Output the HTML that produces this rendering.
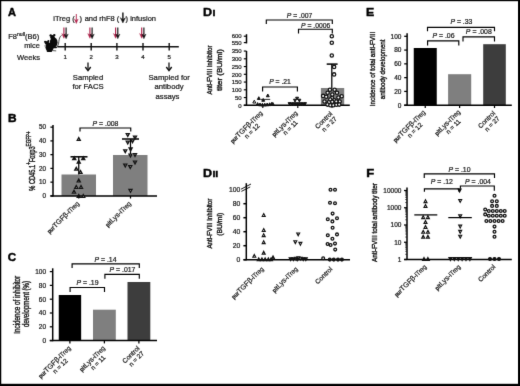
<!DOCTYPE html>
<html lang="en"><head><meta charset="utf-8"><title>Figure</title>
<style>html,body{margin:0;padding:0;background:#fff;}svg{display:block;}</style></head><body>
<svg width="520" height="386" viewBox="0 0 520 386" font-family='"Liberation Sans", sans-serif'>
<style>text{stroke:#1a1a1a;stroke-width:0.22px;}</style>
<defs><filter id="soft" x="0" y="0" width="520" height="386" filterUnits="userSpaceOnUse" color-interpolation-filters="sRGB"><feConvolveMatrix order="3" kernelMatrix="0.008 0.07 0.008 0.07 0.688 0.07 0.008 0.07 0.008" divisor="1" edgeMode="duplicate" preserveAlpha="true"/></filter></defs>
<g filter="url(#soft)">
<rect x="0.00" y="0.00" width="520.00" height="386.00" fill="#fff"/>
<rect x="0.00" y="0.00" width="520.00" height="1.20" fill="#000"/>
<rect x="0.00" y="0.00" width="1.25" height="386.00" fill="#000"/>
<rect x="518.00" y="0.00" width="2.00" height="386.00" fill="#000"/>
<rect x="0.00" y="383.80" width="520.00" height="2.20" fill="#000"/>
<text transform="translate(8.00,15.80) scale(1.0,1)" font-size="11" font-weight="bold" fill="#000" style="stroke:#000;stroke-width:0.45px">A</text>
<text transform="translate(8.00,122.20) scale(1.08,1)" font-size="11" font-weight="bold" fill="#000" style="stroke:#000;stroke-width:0.45px">B</text>
<text transform="translate(7.80,261.00) scale(1.06,1)" font-size="11" font-weight="bold" fill="#000" style="stroke:#000;stroke-width:0.45px">C</text>
<text transform="translate(203.0,16.2) scale(1.14,1)" font-size="11" font-weight="bold" fill="#000" style="stroke:#000;stroke-width:0.4px">D<tspan font-size="13.6" dx="0.3" style="font-variant:small-caps">i</tspan></text>
<text transform="translate(203.0,176.5) scale(1.14,1)" font-size="11" font-weight="bold" fill="#000" style="stroke:#000;stroke-width:0.4px">D<tspan font-size="13.6" dx="0.3" style="font-variant:small-caps">ii</tspan></text>
<text transform="translate(366.10,16.20) scale(1.12,1)" font-size="11" font-weight="bold" fill="#000" style="stroke:#000;stroke-width:0.45px">E</text>
<text transform="translate(366.20,176.60) scale(1.18,1)" font-size="11" font-weight="bold" fill="#000" style="stroke:#000;stroke-width:0.45px">F</text>
<text transform="translate(53.30,21.20)" font-size="7.5" fill="#1a1a1a">iTreg (</text>
<text transform="translate(79.60,21.20)" font-size="7.5" fill="#1a1a1a">)</text>
<text transform="translate(84.70,21.20)" font-size="7.5" fill="#1a1a1a">and rhF8 (</text>
<text transform="translate(125.60,21.20)" font-size="7.5" fill="#1a1a1a">) infusion</text>
<path d="M76.30,14.00 V21.60" stroke="#b0204a" stroke-width="0.9" fill="none"/>
<path d="M74.40,19.00 L76.30,20.75 L78.20,19.00 L76.30,23.60 Z" fill="#b0204a" stroke="#b0204a" stroke-width="0.4" stroke-linejoin="round"/>
<path d="M122.90,12.60 V21.00" stroke="#111" stroke-width="1.4" fill="none"/>
<path d="M120.20,17.60 L122.90,19.65 L125.60,17.60 L122.90,23.00 Z" fill="#111" stroke="#111" stroke-width="0.4" stroke-linejoin="round"/>
<line x1="57.30" y1="46.70" x2="178.80" y2="46.70" stroke="#111" stroke-width="1.5" stroke-linecap="butt"/>
<line x1="65.20" y1="42.90" x2="65.20" y2="50.50" stroke="#111" stroke-width="1.4" stroke-linecap="butt"/>
<text transform="translate(65.20,58.90)" font-size="6.1" text-anchor="middle" fill="#1a1a1a">1</text>
<line x1="91.20" y1="42.90" x2="91.20" y2="50.50" stroke="#111" stroke-width="1.4" stroke-linecap="butt"/>
<text transform="translate(91.20,58.90)" font-size="6.1" text-anchor="middle" fill="#1a1a1a">2</text>
<line x1="116.90" y1="42.90" x2="116.90" y2="50.50" stroke="#111" stroke-width="1.4" stroke-linecap="butt"/>
<text transform="translate(116.90,58.90)" font-size="6.1" text-anchor="middle" fill="#1a1a1a">3</text>
<line x1="143.00" y1="42.90" x2="143.00" y2="50.50" stroke="#111" stroke-width="1.4" stroke-linecap="butt"/>
<text transform="translate(143.00,58.90)" font-size="6.1" text-anchor="middle" fill="#1a1a1a">4</text>
<line x1="169.20" y1="42.90" x2="169.20" y2="50.50" stroke="#111" stroke-width="1.4" stroke-linecap="butt"/>
<text transform="translate(169.20,58.90)" font-size="6.1" text-anchor="middle" fill="#1a1a1a">5</text>
<path d="M63.90,27.40 V36.30" stroke="#b0204a" stroke-width="1.15" fill="none"/>
<path d="M61.75,33.50 L63.90,35.32 L66.05,33.50 L63.90,38.30 Z" fill="#b0204a" stroke="#b0204a" stroke-width="0.4" stroke-linejoin="round"/>
<path d="M66.10,27.40 V36.80" stroke="#111" stroke-width="1.15" fill="none"/>
<path d="M63.95,34.00 L66.10,35.82 L68.25,34.00 L66.10,38.80 Z" fill="#111" stroke="#111" stroke-width="0.4" stroke-linejoin="round"/>
<path d="M89.90,27.40 V36.30" stroke="#b0204a" stroke-width="1.15" fill="none"/>
<path d="M87.75,33.50 L89.90,35.32 L92.05,33.50 L89.90,38.30 Z" fill="#b0204a" stroke="#b0204a" stroke-width="0.4" stroke-linejoin="round"/>
<path d="M92.10,27.40 V36.80" stroke="#111" stroke-width="1.15" fill="none"/>
<path d="M89.95,34.00 L92.10,35.82 L94.25,34.00 L92.10,38.80 Z" fill="#111" stroke="#111" stroke-width="0.4" stroke-linejoin="round"/>
<path d="M115.60,27.40 V36.30" stroke="#b0204a" stroke-width="1.15" fill="none"/>
<path d="M113.45,33.50 L115.60,35.32 L117.75,33.50 L115.60,38.30 Z" fill="#b0204a" stroke="#b0204a" stroke-width="0.4" stroke-linejoin="round"/>
<path d="M117.80,27.40 V36.80" stroke="#111" stroke-width="1.15" fill="none"/>
<path d="M115.65,34.00 L117.80,35.82 L119.95,34.00 L117.80,38.80 Z" fill="#111" stroke="#111" stroke-width="0.4" stroke-linejoin="round"/>
<path d="M141.70,27.40 V36.30" stroke="#b0204a" stroke-width="1.15" fill="none"/>
<path d="M139.55,33.50 L141.70,35.32 L143.85,33.50 L141.70,38.30 Z" fill="#b0204a" stroke="#b0204a" stroke-width="0.4" stroke-linejoin="round"/>
<path d="M143.90,27.40 V36.80" stroke="#111" stroke-width="1.15" fill="none"/>
<path d="M141.75,34.00 L143.90,35.82 L146.05,34.00 L143.90,38.80 Z" fill="#111" stroke="#111" stroke-width="0.4" stroke-linejoin="round"/>
<text transform="translate(8.2,38.9)" font-size="7.5" fill="#1a1a1a">F8<tspan font-size="5.2" dy="-2.5">null</tspan><tspan dy="2.5">(B6)</tspan></text>
<text transform="translate(39.80,47.80)" font-size="7.4" text-anchor="end" fill="#1a1a1a">mice</text>
<text transform="translate(40.00,59.60)" font-size="7.6" text-anchor="end" fill="#1a1a1a">Weeks</text>
<g fill="#0a0a0a">
<ellipse cx="53.7" cy="42.4" rx="3.9" ry="5.2"/>
<ellipse cx="49.6" cy="47.2" rx="4.1" ry="4.5"/>
<circle cx="52.5" cy="37.2" r="2.2"/><circle cx="50.7" cy="35.5" r="1.2"/><circle cx="54.3" cy="35.1" r="1.2"/>
<circle cx="47.0" cy="43.0" r="2.1"/><circle cx="45.1" cy="41.8" r="1.05"/><circle cx="48.4" cy="41.1" r="1.05"/>
<rect x="46.6" y="50.2" width="5.6" height="1.7" rx="0.8"/><rect x="52.0" y="46.6" width="5.0" height="1.6" rx="0.8"/>
</g>
<path d="M52.5,50.6 L56.2,50.9" fill="none" stroke="#111" stroke-width="0.7"/>
<path d="M44.2,42.6 L45.6,43.4 M44.2,46.0 L45.8,45.6" fill="none" stroke="#111" stroke-width="0.5"/>
<path d="M57.0,46.4 C59.8,45.6 57.6,37.6 61.6,35.4" fill="none" stroke="#222" stroke-width="0.8"/>
<path d="M88.00,62.40 V70.00" fill="none" stroke="#111" stroke-width="1.3"/>
<path d="M85.30,67.00 L88.00,70.60 L90.70,67.00" fill="none" stroke="#111" stroke-width="1.4" stroke-linejoin="miter"/>
<path d="M169.00,62.40 V70.00" fill="none" stroke="#111" stroke-width="1.3"/>
<path d="M166.30,67.00 L169.00,70.60 L171.70,67.00" fill="none" stroke="#111" stroke-width="1.4" stroke-linejoin="miter"/>
<text transform="translate(88.00,80.10)" font-size="7.7" text-anchor="middle" fill="#1a1a1a">Sampled</text>
<text transform="translate(88.00,89.30)" font-size="7.7" text-anchor="middle" fill="#1a1a1a">for FACS</text>
<text transform="translate(169.20,79.90)" font-size="7.7" text-anchor="middle" fill="#1a1a1a">Sampled for</text>
<text transform="translate(169.00,89.40)" font-size="7.7" text-anchor="middle" fill="#1a1a1a">antibody</text>
<text transform="translate(167.50,98.70)" font-size="7.7" text-anchor="middle" fill="#1a1a1a">assays</text>
<rect x="61.50" y="174.50" width="34.50" height="21.40" fill="#7f7f7f"/>
<rect x="113.00" y="155.00" width="34.50" height="40.90" fill="#7f7f7f"/>
<line x1="53.00" y1="125.00" x2="53.00" y2="196.50" stroke="#000" stroke-width="1.5" stroke-linecap="butt"/>
<line x1="50.40" y1="195.90" x2="157.00" y2="195.90" stroke="#000" stroke-width="1.5" stroke-linecap="butt"/>
<line x1="50.40" y1="195.90" x2="53.00" y2="195.90" stroke="#000" stroke-width="1.25" stroke-linecap="butt"/>
<text transform="translate(45.90,198.10)" font-size="6.3" text-anchor="end" fill="#1a1a1a">0</text>
<line x1="50.40" y1="182.15" x2="53.00" y2="182.15" stroke="#000" stroke-width="1.25" stroke-linecap="butt"/>
<text transform="translate(45.90,184.35)" font-size="6.3" text-anchor="end" fill="#1a1a1a">10</text>
<line x1="50.40" y1="168.40" x2="53.00" y2="168.40" stroke="#000" stroke-width="1.25" stroke-linecap="butt"/>
<text transform="translate(45.90,170.60)" font-size="6.3" text-anchor="end" fill="#1a1a1a">20</text>
<line x1="50.40" y1="154.65" x2="53.00" y2="154.65" stroke="#000" stroke-width="1.25" stroke-linecap="butt"/>
<text transform="translate(45.90,156.85)" font-size="6.3" text-anchor="end" fill="#1a1a1a">30</text>
<line x1="50.40" y1="140.90" x2="53.00" y2="140.90" stroke="#000" stroke-width="1.25" stroke-linecap="butt"/>
<text transform="translate(45.90,143.10)" font-size="6.3" text-anchor="end" fill="#1a1a1a">40</text>
<line x1="50.40" y1="127.15" x2="53.00" y2="127.15" stroke="#000" stroke-width="1.25" stroke-linecap="butt"/>
<text transform="translate(45.90,129.35)" font-size="6.3" text-anchor="end" fill="#1a1a1a">50</text>
<line x1="78.75" y1="195.90" x2="78.75" y2="198.50" stroke="#000" stroke-width="1.25" stroke-linecap="butt"/>
<line x1="130.50" y1="195.90" x2="130.50" y2="198.50" stroke="#000" stroke-width="1.25" stroke-linecap="butt"/>
<line x1="78.75" y1="156.80" x2="78.75" y2="174.50" stroke="#000" stroke-width="1.25" stroke-linecap="butt"/>
<line x1="70.50" y1="156.80" x2="87.50" y2="156.80" stroke="#000" stroke-width="1.5" stroke-linecap="butt"/>
<line x1="130.50" y1="139.00" x2="130.50" y2="155.00" stroke="#000" stroke-width="1.25" stroke-linecap="butt"/>
<line x1="122.00" y1="139.00" x2="139.00" y2="139.00" stroke="#000" stroke-width="1.5" stroke-linecap="butt"/>
<path d="M78.75,137.53 L80.30,140.47 L77.20,140.47 Z" fill="#fff" stroke="#111" stroke-width="1.3" stroke-linejoin="miter"/>
<path d="M74.25,156.78 L75.80,159.72 L72.70,159.72 Z" fill="#fff" stroke="#111" stroke-width="1.3" stroke-linejoin="miter"/>
<path d="M83.25,156.78 L84.80,159.72 L81.70,159.72 Z" fill="#fff" stroke="#111" stroke-width="1.3" stroke-linejoin="miter"/>
<path d="M78.75,160.28 L80.30,163.22 L77.20,163.22 Z" fill="#111" stroke="#111" stroke-width="1.3" stroke-linejoin="miter"/>
<path d="M76.25,167.28 L77.80,170.22 L74.70,170.22 Z" fill="#fff" stroke="#111" stroke-width="1.3" stroke-linejoin="miter"/>
<path d="M80.50,170.53 L82.05,173.47 L78.95,173.47 Z" fill="#fff" stroke="#111" stroke-width="1.3" stroke-linejoin="miter"/>
<path d="M78.75,179.03 L80.30,181.97 L77.20,181.97 Z" fill="#fff" stroke="#111" stroke-width="1.3" stroke-linejoin="miter"/>
<path d="M76.25,185.53 L77.80,188.47 L74.70,188.47 Z" fill="#fff" stroke="#111" stroke-width="1.3" stroke-linejoin="miter"/>
<path d="M81.00,185.53 L82.55,188.47 L79.45,188.47 Z" fill="#fff" stroke="#111" stroke-width="1.3" stroke-linejoin="miter"/>
<path d="M74.00,190.28 L75.55,193.22 L72.45,193.22 Z" fill="#fff" stroke="#111" stroke-width="1.3" stroke-linejoin="miter"/>
<path d="M78.75,194.53 L80.30,197.47 L77.20,197.47 Z" fill="#111" stroke="#111" stroke-width="1.3" stroke-linejoin="miter"/>
<path d="M83.25,194.53 L84.80,197.47 L81.70,197.47 Z" fill="#fff" stroke="#111" stroke-width="1.3" stroke-linejoin="miter"/>
<path d="M127.75,136.47 L129.30,133.53 L126.20,133.53 Z" fill="#fff" stroke="#111" stroke-width="1.3" stroke-linejoin="miter"/>
<path d="M135.00,138.97 L136.55,136.03 L133.45,136.03 Z" fill="#fff" stroke="#111" stroke-width="1.3" stroke-linejoin="miter"/>
<path d="M127.75,143.97 L129.30,141.03 L126.20,141.03 Z" fill="#fff" stroke="#111" stroke-width="1.3" stroke-linejoin="miter"/>
<path d="M132.50,142.72 L134.05,139.78 L130.95,139.78 Z" fill="#fff" stroke="#111" stroke-width="1.3" stroke-linejoin="miter"/>
<path d="M125.25,152.72 L126.80,149.78 L123.70,149.78 Z" fill="#fff" stroke="#111" stroke-width="1.3" stroke-linejoin="miter"/>
<path d="M130.50,156.97 L132.05,154.03 L128.95,154.03 Z" fill="#fff" stroke="#111" stroke-width="1.3" stroke-linejoin="miter"/>
<path d="M135.00,156.47 L136.55,153.53 L133.45,153.53 Z" fill="#fff" stroke="#111" stroke-width="1.3" stroke-linejoin="miter"/>
<path d="M135.00,163.97 L136.55,161.03 L133.45,161.03 Z" fill="#fff" stroke="#111" stroke-width="1.3" stroke-linejoin="miter"/>
<path d="M125.25,166.97 L126.80,164.03 L123.70,164.03 Z" fill="#fff" stroke="#111" stroke-width="1.3" stroke-linejoin="miter"/>
<path d="M130.25,168.47 L131.80,165.53 L128.70,165.53 Z" fill="#fff" stroke="#111" stroke-width="1.3" stroke-linejoin="miter"/>
<path d="M130.50,192.22 L132.05,189.28 L128.95,189.28 Z" fill="#fff" stroke="#111" stroke-width="1.3" stroke-linejoin="miter"/>
<path d="M130.60,150.87 L132.15,147.93 L129.05,147.93 Z" fill="#111" stroke="#111" stroke-width="1.3" stroke-linejoin="miter"/>
<path d="M80.00,131.60 V128.00 H130.75 V131.60" fill="none" stroke="#000" stroke-width="1.15"/>
<text transform="translate(105.50,125.90)" font-size="6.9" text-anchor="middle" fill="#1a1a1a"><tspan font-style="italic">P</tspan> = .008</text>
<g transform="translate(79.70,204.10) rotate(-45)" font-size="6.6" fill="#1a1a1a">
<text x="-42.40" y="0"><tspan font-size="6.3" font-weight="bold" textLength="8.0" lengthAdjust="spacingAndGlyphs">pur</tspan><tspan font-size="7.2" textLength="18.6" lengthAdjust="spacingAndGlyphs">TGFβ</tspan><tspan font-size="6.6" textLength="15.8" lengthAdjust="spacingAndGlyphs">-iTreg</tspan></text>
</g>
<g transform="translate(131.50,204.10) rotate(-45)" font-size="6.6" fill="#1a1a1a">
<text x="-33.10" y="0"><tspan font-size="6.3" font-weight="bold" textLength="6.3" lengthAdjust="spacingAndGlyphs">plt</tspan><tspan font-size="7.2" textLength="11.0" lengthAdjust="spacingAndGlyphs">Lys</tspan><tspan font-size="6.6" textLength="15.8" lengthAdjust="spacingAndGlyphs">-iTreg</tspan></text>
</g>
<text transform="translate(34.80,190.75) rotate(-90)" font-size="8.2" textLength="59.5" lengthAdjust="spacingAndGlyphs" fill="#1a1a1a" style="stroke-width:0.42px">% CD45.1<tspan font-size="6.6" dy="-3.4">+</tspan><tspan dy="3.4">Foxp3</tspan><tspan font-size="6.6" dy="-3.8">EGFP+</tspan></text>
<rect x="58.75" y="295.00" width="22.40" height="45.60" fill="#000"/>
<rect x="93.00" y="309.70" width="22.80" height="30.90" fill="#7f7f7f"/>
<rect x="127.50" y="282.00" width="22.80" height="58.60" fill="#3d3d3d"/>
<line x1="52.70" y1="268.30" x2="52.70" y2="341.20" stroke="#000" stroke-width="1.5" stroke-linecap="butt"/>
<line x1="49.80" y1="340.60" x2="157.00" y2="340.60" stroke="#000" stroke-width="1.5" stroke-linecap="butt"/>
<line x1="49.80" y1="340.60" x2="52.60" y2="340.60" stroke="#000" stroke-width="1.25" stroke-linecap="butt"/>
<text transform="translate(46.10,343.00)" font-size="6.5" text-anchor="end" fill="#1a1a1a">0</text>
<line x1="49.80" y1="326.80" x2="52.60" y2="326.80" stroke="#000" stroke-width="1.25" stroke-linecap="butt"/>
<text transform="translate(46.10,329.20)" font-size="6.5" text-anchor="end" fill="#1a1a1a">20</text>
<line x1="49.80" y1="313.00" x2="52.60" y2="313.00" stroke="#000" stroke-width="1.25" stroke-linecap="butt"/>
<text transform="translate(46.10,315.40)" font-size="6.5" text-anchor="end" fill="#1a1a1a">40</text>
<line x1="49.80" y1="299.20" x2="52.60" y2="299.20" stroke="#000" stroke-width="1.25" stroke-linecap="butt"/>
<text transform="translate(46.10,301.60)" font-size="6.5" text-anchor="end" fill="#1a1a1a">60</text>
<line x1="49.80" y1="285.40" x2="52.60" y2="285.40" stroke="#000" stroke-width="1.25" stroke-linecap="butt"/>
<text transform="translate(46.10,287.80)" font-size="6.5" text-anchor="end" fill="#1a1a1a">80</text>
<line x1="49.80" y1="271.60" x2="52.60" y2="271.60" stroke="#000" stroke-width="1.25" stroke-linecap="butt"/>
<text transform="translate(46.10,274.00)" font-size="6.5" text-anchor="end" fill="#1a1a1a">100</text>
<line x1="69.90" y1="340.60" x2="69.90" y2="343.40" stroke="#000" stroke-width="1.25" stroke-linecap="butt"/>
<line x1="104.40" y1="340.60" x2="104.40" y2="343.40" stroke="#000" stroke-width="1.25" stroke-linecap="butt"/>
<line x1="138.90" y1="340.60" x2="138.90" y2="343.40" stroke="#000" stroke-width="1.25" stroke-linecap="butt"/>
<path d="M72.10,268.00 V263.80 H139.30 V268.00" fill="none" stroke="#000" stroke-width="1.15"/>
<path d="M104.90,278.70 V274.30 H139.30 V278.70" fill="none" stroke="#000" stroke-width="1.15"/>
<path d="M70.10,291.90 V287.50 H104.50 V291.90" fill="none" stroke="#000" stroke-width="1.15"/>
<text transform="translate(105.50,261.50)" font-size="6.9" text-anchor="middle" fill="#1a1a1a"><tspan font-style="italic">P</tspan> = .14</text>
<text transform="translate(122.50,272.10)" font-size="6.9" text-anchor="middle" fill="#1a1a1a"><tspan font-style="italic">P</tspan> = .017</text>
<text transform="translate(87.50,285.30)" font-size="6.9" text-anchor="middle" fill="#1a1a1a"><tspan font-style="italic">P</tspan> = .19</text>
<g transform="translate(71.10,348.70) rotate(-45)" font-size="6.6" fill="#1a1a1a">
<text x="-42.40" y="0"><tspan font-size="6.3" font-weight="bold" textLength="8.0" lengthAdjust="spacingAndGlyphs">pur</tspan><tspan font-size="7.2" textLength="18.6" lengthAdjust="spacingAndGlyphs">TGFβ</tspan><tspan font-size="6.6" textLength="15.8" lengthAdjust="spacingAndGlyphs">-iTreg</tspan></text>
<text x="-20.00" y="6.8" text-anchor="middle" font-size="6.5">n = 12</text>
</g>
<g transform="translate(105.50,348.70) rotate(-45)" font-size="6.6" fill="#1a1a1a">
<text x="-33.10" y="0"><tspan font-size="6.3" font-weight="bold" textLength="6.3" lengthAdjust="spacingAndGlyphs">plt</tspan><tspan font-size="7.2" textLength="11.0" lengthAdjust="spacingAndGlyphs">Lys</tspan><tspan font-size="6.6" textLength="15.8" lengthAdjust="spacingAndGlyphs">-iTreg</tspan></text>
<text x="-15.30" y="6.8" text-anchor="middle" font-size="6.5">n = 11</text>
</g>
<g transform="translate(140.10,348.70) rotate(-45)" font-size="6.6" fill="#1a1a1a">
<text x="0" y="0" text-anchor="end">Control</text>
<text x="-9.80" y="6.8" text-anchor="middle" font-size="6.5">n = 27</text>
</g>
<rect x="320.90" y="88.00" width="23.30" height="17.30" fill="#7f7f7f"/>
<line x1="246.50" y1="51.00" x2="246.50" y2="105.90" stroke="#000" stroke-width="1.5" stroke-linecap="butt"/>
<line x1="246.50" y1="34.20" x2="246.50" y2="43.40" stroke="#000" stroke-width="1.5" stroke-linecap="butt"/>
<line x1="243.80" y1="105.30" x2="349.80" y2="105.30" stroke="#000" stroke-width="1.5" stroke-linecap="butt"/>
<line x1="243.80" y1="105.30" x2="246.50" y2="105.30" stroke="#000" stroke-width="1.15" stroke-linecap="butt"/>
<text transform="translate(241.70,107.50)" font-size="6.0" text-anchor="end" fill="#1a1a1a">0</text>
<line x1="243.80" y1="97.55" x2="246.50" y2="97.55" stroke="#000" stroke-width="1.15" stroke-linecap="butt"/>
<text transform="translate(241.70,99.75)" font-size="6.0" text-anchor="end" fill="#1a1a1a">50</text>
<line x1="243.80" y1="89.80" x2="246.50" y2="89.80" stroke="#000" stroke-width="1.15" stroke-linecap="butt"/>
<text transform="translate(241.70,92.00)" font-size="6.0" text-anchor="end" fill="#1a1a1a">100</text>
<line x1="243.80" y1="82.05" x2="246.50" y2="82.05" stroke="#000" stroke-width="1.15" stroke-linecap="butt"/>
<text transform="translate(241.70,84.25)" font-size="6.0" text-anchor="end" fill="#1a1a1a">150</text>
<line x1="243.80" y1="74.30" x2="246.50" y2="74.30" stroke="#000" stroke-width="1.15" stroke-linecap="butt"/>
<text transform="translate(241.70,76.50)" font-size="6.0" text-anchor="end" fill="#1a1a1a">200</text>
<line x1="243.80" y1="66.55" x2="246.50" y2="66.55" stroke="#000" stroke-width="1.15" stroke-linecap="butt"/>
<text transform="translate(241.70,68.75)" font-size="6.0" text-anchor="end" fill="#1a1a1a">250</text>
<line x1="243.80" y1="58.80" x2="246.50" y2="58.80" stroke="#000" stroke-width="1.15" stroke-linecap="butt"/>
<text transform="translate(241.70,61.00)" font-size="6.0" text-anchor="end" fill="#1a1a1a">300</text>
<line x1="243.80" y1="51.05" x2="246.50" y2="51.05" stroke="#000" stroke-width="1.15" stroke-linecap="butt"/>
<text transform="translate(241.70,53.25)" font-size="6.0" text-anchor="end" fill="#1a1a1a">350</text>
<line x1="243.80" y1="42.60" x2="246.50" y2="42.60" stroke="#000" stroke-width="1.15" stroke-linecap="butt"/>
<text transform="translate(241.70,44.80)" font-size="6.0" text-anchor="end" fill="#1a1a1a">550</text>
<line x1="243.80" y1="36.20" x2="246.50" y2="36.20" stroke="#000" stroke-width="1.15" stroke-linecap="butt"/>
<text transform="translate(241.70,38.40)" font-size="6.0" text-anchor="end" fill="#1a1a1a">600</text>
<line x1="262.80" y1="105.30" x2="262.80" y2="107.90" stroke="#000" stroke-width="1.15" stroke-linecap="butt"/>
<line x1="297.80" y1="105.30" x2="297.80" y2="107.90" stroke="#000" stroke-width="1.15" stroke-linecap="butt"/>
<line x1="332.00" y1="105.30" x2="332.00" y2="107.90" stroke="#000" stroke-width="1.15" stroke-linecap="butt"/>
<line x1="331.80" y1="64.10" x2="331.80" y2="88.00" stroke="#000" stroke-width="1.25" stroke-linecap="butt"/>
<line x1="326.70" y1="64.10" x2="337.60" y2="64.10" stroke="#000" stroke-width="1.5" stroke-linecap="butt"/>
<circle cx="331.80" cy="36.20" r="1.65" fill="#fff" stroke="#111" stroke-width="1.3"/>
<circle cx="331.80" cy="42.70" r="1.65" fill="#fff" stroke="#111" stroke-width="1.3"/>
<circle cx="331.80" cy="55.50" r="1.65" fill="#fff" stroke="#111" stroke-width="1.3"/>
<circle cx="334.10" cy="66.90" r="1.65" fill="#fff" stroke="#111" stroke-width="1.3"/>
<circle cx="334.10" cy="74.40" r="1.65" fill="#fff" stroke="#111" stroke-width="1.3"/>
<circle cx="332.00" cy="98.00" r="1.65" fill="#fff" stroke="#111" stroke-width="1.3"/>
<circle cx="329.90" cy="89.70" r="1.65" fill="#fff" stroke="#111" stroke-width="1.3"/>
<circle cx="334.60" cy="89.70" r="1.65" fill="#fff" stroke="#111" stroke-width="1.3"/>
<circle cx="327.60" cy="92.80" r="1.65" fill="#fff" stroke="#111" stroke-width="1.3"/>
<circle cx="337.00" cy="92.80" r="1.65" fill="#fff" stroke="#111" stroke-width="1.3"/>
<circle cx="332.30" cy="94.50" r="1.65" fill="#fff" stroke="#111" stroke-width="1.3"/>
<circle cx="323.10" cy="95.90" r="1.65" fill="#fff" stroke="#111" stroke-width="1.3"/>
<circle cx="326.20" cy="96.80" r="1.65" fill="#fff" stroke="#111" stroke-width="1.3"/>
<circle cx="341.70" cy="96.20" r="1.65" fill="#fff" stroke="#111" stroke-width="1.3"/>
<circle cx="338.40" cy="97.50" r="1.65" fill="#fff" stroke="#111" stroke-width="1.3"/>
<circle cx="330.30" cy="99.50" r="1.65" fill="#fff" stroke="#111" stroke-width="1.3"/>
<circle cx="334.30" cy="100.20" r="1.65" fill="#fff" stroke="#111" stroke-width="1.3"/>
<circle cx="324.50" cy="101.50" r="1.65" fill="#fff" stroke="#111" stroke-width="1.3"/>
<circle cx="339.70" cy="101.50" r="1.65" fill="#fff" stroke="#111" stroke-width="1.3"/>
<circle cx="328.90" cy="102.20" r="1.65" fill="#fff" stroke="#111" stroke-width="1.3"/>
<circle cx="336.30" cy="101.50" r="1.65" fill="#fff" stroke="#111" stroke-width="1.3"/>
<circle cx="332.30" cy="101.80" r="1.65" fill="#fff" stroke="#111" stroke-width="1.3"/>
<circle cx="327.50" cy="104.60" r="1.65" fill="#fff" stroke="#111" stroke-width="1.3"/>
<circle cx="330.40" cy="105.20" r="1.65" fill="#fff" stroke="#111" stroke-width="1.3"/>
<circle cx="333.40" cy="105.20" r="1.65" fill="#fff" stroke="#111" stroke-width="1.3"/>
<circle cx="336.40" cy="104.80" r="1.65" fill="#fff" stroke="#111" stroke-width="1.3"/>
<circle cx="339.20" cy="104.60" r="1.65" fill="#fff" stroke="#111" stroke-width="1.3"/>
<path d="M267.80,94.02 L269.25,96.78 L266.35,96.78 Z" fill="#111" stroke="#111" stroke-width="1.0" stroke-linejoin="miter"/>
<path d="M258.80,96.72 L260.25,99.48 L257.35,99.48 Z" fill="#111" stroke="#111" stroke-width="1.0" stroke-linejoin="miter"/>
<path d="M263.20,98.52 L264.65,101.28 L261.75,101.28 Z" fill="#111" stroke="#111" stroke-width="1.0" stroke-linejoin="miter"/>
<path d="M257.60,102.62 L259.05,105.38 L256.15,105.38 Z" fill="#111" stroke="#111" stroke-width="1.0" stroke-linejoin="miter"/>
<path d="M260.00,103.02 L261.45,105.78 L258.55,105.78 Z" fill="#111" stroke="#111" stroke-width="1.0" stroke-linejoin="miter"/>
<path d="M262.40,103.22 L263.85,105.98 L260.95,105.98 Z" fill="#111" stroke="#111" stroke-width="1.0" stroke-linejoin="miter"/>
<path d="M264.80,103.22 L266.25,105.98 L263.35,105.98 Z" fill="#111" stroke="#111" stroke-width="1.0" stroke-linejoin="miter"/>
<path d="M267.20,103.02 L268.65,105.78 L265.75,105.78 Z" fill="#111" stroke="#111" stroke-width="1.0" stroke-linejoin="miter"/>
<path d="M269.60,102.82 L271.05,105.58 L268.15,105.58 Z" fill="#111" stroke="#111" stroke-width="1.0" stroke-linejoin="miter"/>
<path d="M271.60,102.42 L273.05,105.18 L270.15,105.18 Z" fill="#111" stroke="#111" stroke-width="1.0" stroke-linejoin="miter"/>
<path d="M254.30,100.17 L255.80,103.02 L252.80,103.02 Z" fill="#fff" stroke="#111" stroke-width="1.0" stroke-linejoin="miter"/>
<path d="M272.80,102.36 L274.10,104.83 L271.50,104.83 Z" fill="#111" stroke="#111" stroke-width="0.9" stroke-linejoin="miter"/>
<line x1="260.80" y1="99.40" x2="270.20" y2="99.40" stroke="#111" stroke-width="0.9" stroke-linecap="butt"/>
<path d="M297.10,99.98 L298.55,97.22 L295.65,97.22 Z" fill="#111" stroke="#111" stroke-width="1.0" stroke-linejoin="miter"/>
<path d="M295.00,101.98 L296.45,99.22 L293.55,99.22 Z" fill="#111" stroke="#111" stroke-width="1.0" stroke-linejoin="miter"/>
<path d="M299.40,101.98 L300.85,99.22 L297.95,99.22 Z" fill="#111" stroke="#111" stroke-width="1.0" stroke-linejoin="miter"/>
<path d="M289.60,105.38 L291.05,102.62 L288.15,102.62 Z" fill="#111" stroke="#111" stroke-width="1.0" stroke-linejoin="miter"/>
<path d="M291.80,105.78 L293.25,103.02 L290.35,103.02 Z" fill="#111" stroke="#111" stroke-width="1.0" stroke-linejoin="miter"/>
<path d="M294.00,105.98 L295.45,103.22 L292.55,103.22 Z" fill="#111" stroke="#111" stroke-width="1.0" stroke-linejoin="miter"/>
<path d="M296.20,105.98 L297.65,103.22 L294.75,103.22 Z" fill="#111" stroke="#111" stroke-width="1.0" stroke-linejoin="miter"/>
<path d="M298.40,105.98 L299.85,103.22 L296.95,103.22 Z" fill="#111" stroke="#111" stroke-width="1.0" stroke-linejoin="miter"/>
<path d="M300.60,105.98 L302.05,103.22 L299.15,103.22 Z" fill="#111" stroke="#111" stroke-width="1.0" stroke-linejoin="miter"/>
<path d="M302.80,105.78 L304.25,103.02 L301.35,103.02 Z" fill="#111" stroke="#111" stroke-width="1.0" stroke-linejoin="miter"/>
<path d="M305.00,105.38 L306.45,102.62 L303.55,102.62 Z" fill="#111" stroke="#111" stroke-width="1.0" stroke-linejoin="miter"/>
<line x1="291.50" y1="102.60" x2="303.00" y2="102.60" stroke="#111" stroke-width="0.9" stroke-linecap="butt"/>
<path d="M266.30,24.00 V20.00 H332.30 V24.00" fill="none" stroke="#000" stroke-width="1.15"/>
<path d="M298.50,33.40 V29.20 H332.30 V33.40" fill="none" stroke="#000" stroke-width="1.15"/>
<path d="M262.60,91.40 V87.00 H297.40 V91.40" fill="none" stroke="#000" stroke-width="1.15"/>
<text transform="translate(299.50,17.50)" font-size="6.8" text-anchor="middle" fill="#1a1a1a"><tspan font-style="italic">P</tspan> = .007</text>
<text transform="translate(315.60,27.50)" font-size="6.8" text-anchor="middle" fill="#1a1a1a"><tspan font-style="italic">P</tspan> = .0006</text>
<text transform="translate(280.00,84.10)" font-size="6.8" text-anchor="middle" fill="#1a1a1a"><tspan font-style="italic">P</tspan> = .21</text>
<g transform="translate(262.90,113.70) rotate(-45)" font-size="6.6" fill="#1a1a1a">
<text x="-42.40" y="0"><tspan font-size="6.3" font-weight="bold" textLength="8.0" lengthAdjust="spacingAndGlyphs">pur</tspan><tspan font-size="7.2" textLength="18.6" lengthAdjust="spacingAndGlyphs">TGFβ</tspan><tspan font-size="6.6" textLength="15.8" lengthAdjust="spacingAndGlyphs">-iTreg</tspan></text>
<text x="-20.00" y="6.8" text-anchor="middle" font-size="6.5">n = 12</text>
</g>
<g transform="translate(297.90,113.70) rotate(-45)" font-size="6.6" fill="#1a1a1a">
<text x="-33.10" y="0"><tspan font-size="6.3" font-weight="bold" textLength="6.3" lengthAdjust="spacingAndGlyphs">plt</tspan><tspan font-size="7.2" textLength="11.0" lengthAdjust="spacingAndGlyphs">Lys</tspan><tspan font-size="6.6" textLength="15.8" lengthAdjust="spacingAndGlyphs">-iTreg</tspan></text>
<text x="-15.30" y="6.8" text-anchor="middle" font-size="6.5">n = 11</text>
</g>
<g transform="translate(332.90,114.10) rotate(-45)" font-size="6.6" fill="#1a1a1a">
<text x="0" y="0" text-anchor="end">Control</text>
<text x="-9.80" y="6.8" text-anchor="middle" font-size="6.5">n = 27</text>
</g>
<line x1="246.30" y1="183.20" x2="246.30" y2="260.30" stroke="#000" stroke-width="1.5" stroke-linecap="butt"/>
<line x1="243.60" y1="259.70" x2="350.00" y2="259.70" stroke="#000" stroke-width="1.5" stroke-linecap="butt"/>
<line x1="241.00" y1="189.20" x2="251.00" y2="184.00" stroke="#000" stroke-width="0.9" stroke-linecap="butt"/>
<line x1="241.40" y1="191.40" x2="250.20" y2="186.90" stroke="#000" stroke-width="0.9" stroke-linecap="butt"/>
<line x1="243.40" y1="259.70" x2="246.30" y2="259.70" stroke="#000" stroke-width="1.5" stroke-linecap="butt"/>
<text transform="translate(240.30,262.10)" font-size="6.8" text-anchor="end" fill="#1a1a1a">0</text>
<line x1="243.40" y1="245.70" x2="246.30" y2="245.70" stroke="#000" stroke-width="1.5" stroke-linecap="butt"/>
<text transform="translate(240.30,248.10)" font-size="6.8" text-anchor="end" fill="#1a1a1a">20</text>
<line x1="243.40" y1="231.70" x2="246.30" y2="231.70" stroke="#000" stroke-width="1.5" stroke-linecap="butt"/>
<text transform="translate(240.30,234.10)" font-size="6.8" text-anchor="end" fill="#1a1a1a">40</text>
<line x1="243.40" y1="217.70" x2="246.30" y2="217.70" stroke="#000" stroke-width="1.5" stroke-linecap="butt"/>
<text transform="translate(240.30,220.10)" font-size="6.8" text-anchor="end" fill="#1a1a1a">60</text>
<line x1="243.40" y1="203.70" x2="246.30" y2="203.70" stroke="#000" stroke-width="1.5" stroke-linecap="butt"/>
<text transform="translate(240.30,206.10)" font-size="6.8" text-anchor="end" fill="#1a1a1a">80</text>
<text transform="translate(240.30,192.10)" font-size="6.8" text-anchor="end" fill="#1a1a1a">100</text>
<path d="M263.70,213.57 L265.20,216.43 L262.20,216.43 Z" fill="#fff" stroke="#111" stroke-width="1.1" stroke-linejoin="miter"/>
<path d="M263.70,228.57 L265.20,231.43 L262.20,231.43 Z" fill="#fff" stroke="#111" stroke-width="1.1" stroke-linejoin="miter"/>
<path d="M263.70,233.77 L265.20,236.62 L262.20,236.62 Z" fill="#fff" stroke="#111" stroke-width="1.1" stroke-linejoin="miter"/>
<path d="M263.70,240.77 L265.20,243.62 L262.20,243.62 Z" fill="#fff" stroke="#111" stroke-width="1.1" stroke-linejoin="miter"/>
<path d="M263.70,251.27 L265.20,254.12 L262.20,254.12 Z" fill="#fff" stroke="#111" stroke-width="1.1" stroke-linejoin="miter"/>
<path d="M254.30,254.47 L255.80,257.32 L252.80,257.32 Z" fill="#fff" stroke="#111" stroke-width="1.1" stroke-linejoin="miter"/>
<path d="M273.00,255.88 L274.50,258.73 L271.50,258.73 Z" fill="#fff" stroke="#111" stroke-width="1.1" stroke-linejoin="miter"/>
<path d="M258.70,257.88 L260.20,260.73 L257.20,260.73 Z" fill="#111" stroke="#111" stroke-width="1.1" stroke-linejoin="miter"/>
<path d="M261.90,257.88 L263.40,260.73 L260.40,260.73 Z" fill="#111" stroke="#111" stroke-width="1.1" stroke-linejoin="miter"/>
<path d="M265.10,257.88 L266.60,260.73 L263.60,260.73 Z" fill="#111" stroke="#111" stroke-width="1.1" stroke-linejoin="miter"/>
<path d="M268.30,257.88 L269.80,260.73 L266.80,260.73 Z" fill="#111" stroke="#111" stroke-width="1.1" stroke-linejoin="miter"/>
<path d="M271.00,257.88 L272.50,260.73 L269.50,260.73 Z" fill="#111" stroke="#111" stroke-width="1.1" stroke-linejoin="miter"/>
<path d="M298.20,235.83 L299.70,232.97 L296.70,232.97 Z" fill="#fff" stroke="#111" stroke-width="1.1" stroke-linejoin="miter"/>
<path d="M295.30,243.62 L296.80,240.77 L293.80,240.77 Z" fill="#fff" stroke="#111" stroke-width="1.1" stroke-linejoin="miter"/>
<path d="M300.40,245.23 L301.90,242.38 L298.90,242.38 Z" fill="#fff" stroke="#111" stroke-width="1.1" stroke-linejoin="miter"/>
<path d="M290.60,260.62 L292.10,257.77 L289.10,257.77 Z" fill="#111" stroke="#111" stroke-width="1.1" stroke-linejoin="miter"/>
<path d="M293.40,260.62 L294.90,257.77 L291.90,257.77 Z" fill="#111" stroke="#111" stroke-width="1.1" stroke-linejoin="miter"/>
<path d="M296.00,260.03 L297.50,257.18 L294.50,257.18 Z" fill="#fff" stroke="#111" stroke-width="1.1" stroke-linejoin="miter"/>
<path d="M298.40,259.62 L299.90,256.77 L296.90,256.77 Z" fill="#fff" stroke="#111" stroke-width="1.1" stroke-linejoin="miter"/>
<path d="M300.80,260.03 L302.30,257.18 L299.30,257.18 Z" fill="#fff" stroke="#111" stroke-width="1.1" stroke-linejoin="miter"/>
<path d="M303.20,260.62 L304.70,257.77 L301.70,257.77 Z" fill="#111" stroke="#111" stroke-width="1.1" stroke-linejoin="miter"/>
<path d="M305.80,260.62 L307.30,257.77 L304.30,257.77 Z" fill="#111" stroke="#111" stroke-width="1.1" stroke-linejoin="miter"/>
<path d="M297.20,260.82 L298.70,257.97 L295.70,257.97 Z" fill="#111" stroke="#111" stroke-width="1.1" stroke-linejoin="miter"/>
<circle cx="330.50" cy="189.80" r="1.4" fill="#fff" stroke="#111" stroke-width="1.3"/>
<circle cx="335.00" cy="189.80" r="1.4" fill="#fff" stroke="#111" stroke-width="1.3"/>
<circle cx="330.00" cy="202.80" r="1.4" fill="#fff" stroke="#111" stroke-width="1.3"/>
<circle cx="335.00" cy="203.20" r="1.4" fill="#fff" stroke="#111" stroke-width="1.3"/>
<circle cx="332.60" cy="213.60" r="1.4" fill="#fff" stroke="#111" stroke-width="1.3"/>
<circle cx="327.80" cy="219.20" r="1.4" fill="#fff" stroke="#111" stroke-width="1.3"/>
<circle cx="337.00" cy="218.20" r="1.4" fill="#fff" stroke="#111" stroke-width="1.3"/>
<circle cx="332.40" cy="221.40" r="1.4" fill="#fff" stroke="#111" stroke-width="1.3"/>
<circle cx="332.60" cy="227.80" r="1.4" fill="#fff" stroke="#111" stroke-width="1.3"/>
<circle cx="327.80" cy="235.20" r="1.4" fill="#fff" stroke="#111" stroke-width="1.3"/>
<circle cx="337.00" cy="234.40" r="1.4" fill="#fff" stroke="#111" stroke-width="1.3"/>
<circle cx="332.40" cy="238.80" r="1.4" fill="#fff" stroke="#111" stroke-width="1.3"/>
<circle cx="327.60" cy="244.00" r="1.4" fill="#fff" stroke="#111" stroke-width="1.3"/>
<circle cx="330.60" cy="245.00" r="1.4" fill="#fff" stroke="#111" stroke-width="1.3"/>
<circle cx="335.00" cy="243.60" r="1.4" fill="#fff" stroke="#111" stroke-width="1.3"/>
<circle cx="335.20" cy="249.60" r="1.4" fill="#fff" stroke="#111" stroke-width="1.3"/>
<circle cx="323.20" cy="258.20" r="1.4" fill="#fff" stroke="#111" stroke-width="1.3"/>
<circle cx="329.80" cy="259.60" r="1.4" fill="#111" stroke="#111" stroke-width="1.3"/>
<circle cx="333.80" cy="259.60" r="1.4" fill="#111" stroke="#111" stroke-width="1.3"/>
<circle cx="338.00" cy="259.60" r="1.4" fill="#111" stroke="#111" stroke-width="1.3"/>
<circle cx="341.90" cy="259.60" r="1.4" fill="#111" stroke="#111" stroke-width="1.3"/>
<g transform="translate(264.10,269.50) rotate(-45)" font-size="6.6" fill="#1a1a1a">
<text x="-42.40" y="0"><tspan font-size="6.3" font-weight="bold" textLength="8.0" lengthAdjust="spacingAndGlyphs">pur</tspan><tspan font-size="7.2" textLength="18.6" lengthAdjust="spacingAndGlyphs">TGFβ</tspan><tspan font-size="6.6" textLength="15.8" lengthAdjust="spacingAndGlyphs">-iTreg</tspan></text>
</g>
<g transform="translate(298.10,269.50) rotate(-45)" font-size="6.6" fill="#1a1a1a">
<text x="-33.10" y="0"><tspan font-size="6.3" font-weight="bold" textLength="6.3" lengthAdjust="spacingAndGlyphs">plt</tspan><tspan font-size="7.2" textLength="11.0" lengthAdjust="spacingAndGlyphs">Lys</tspan><tspan font-size="6.6" textLength="15.8" lengthAdjust="spacingAndGlyphs">-iTreg</tspan></text>
</g>
<g transform="translate(332.90,269.50) rotate(-45)" font-size="6.6" fill="#1a1a1a">
<text x="0" y="0" text-anchor="end">Control</text>
</g>
<rect x="413.75" y="48.00" width="23.00" height="57.20" fill="#000"/>
<rect x="448.10" y="74.20" width="23.10" height="31.00" fill="#7f7f7f"/>
<rect x="483.20" y="44.20" width="22.60" height="61.00" fill="#3d3d3d"/>
<line x1="407.10" y1="33.20" x2="407.10" y2="105.80" stroke="#000" stroke-width="1.5" stroke-linecap="butt"/>
<line x1="404.20" y1="105.20" x2="511.80" y2="105.20" stroke="#000" stroke-width="1.5" stroke-linecap="butt"/>
<line x1="404.20" y1="105.20" x2="407.10" y2="105.20" stroke="#000" stroke-width="1.25" stroke-linecap="butt"/>
<text transform="translate(401.40,107.60)" font-size="6.5" text-anchor="end" fill="#1a1a1a">0</text>
<line x1="404.20" y1="91.42" x2="407.10" y2="91.42" stroke="#000" stroke-width="1.25" stroke-linecap="butt"/>
<text transform="translate(401.40,93.82)" font-size="6.5" text-anchor="end" fill="#1a1a1a">20</text>
<line x1="404.20" y1="77.64" x2="407.10" y2="77.64" stroke="#000" stroke-width="1.25" stroke-linecap="butt"/>
<text transform="translate(401.40,80.04)" font-size="6.5" text-anchor="end" fill="#1a1a1a">40</text>
<line x1="404.20" y1="63.86" x2="407.10" y2="63.86" stroke="#000" stroke-width="1.25" stroke-linecap="butt"/>
<text transform="translate(401.40,66.26)" font-size="6.5" text-anchor="end" fill="#1a1a1a">60</text>
<line x1="404.20" y1="50.08" x2="407.10" y2="50.08" stroke="#000" stroke-width="1.25" stroke-linecap="butt"/>
<text transform="translate(401.40,52.48)" font-size="6.5" text-anchor="end" fill="#1a1a1a">80</text>
<line x1="404.20" y1="36.30" x2="407.10" y2="36.30" stroke="#000" stroke-width="1.25" stroke-linecap="butt"/>
<text transform="translate(401.40,38.70)" font-size="6.5" text-anchor="end" fill="#1a1a1a">100</text>
<line x1="425.25" y1="105.20" x2="425.25" y2="108.00" stroke="#000" stroke-width="1.25" stroke-linecap="butt"/>
<line x1="459.60" y1="105.20" x2="459.60" y2="108.00" stroke="#000" stroke-width="1.25" stroke-linecap="butt"/>
<line x1="494.50" y1="105.20" x2="494.50" y2="108.00" stroke="#000" stroke-width="1.25" stroke-linecap="butt"/>
<path d="M427.50,31.30 V27.30 H494.50 V31.30" fill="none" stroke="#000" stroke-width="1.15"/>
<path d="M427.60,45.40 V40.80 H458.80 V45.40" fill="none" stroke="#000" stroke-width="1.15"/>
<path d="M463.00,41.40 V36.90 H494.50 V41.40" fill="none" stroke="#000" stroke-width="1.15"/>
<text transform="translate(461.40,24.40)" font-size="6.9" text-anchor="middle" fill="#1a1a1a"><tspan font-style="italic">P</tspan> = .33</text>
<text transform="translate(443.50,38.10)" font-size="6.9" text-anchor="middle" fill="#1a1a1a"><tspan font-style="italic">P</tspan> = .06</text>
<text transform="translate(478.80,33.80)" font-size="6.9" text-anchor="middle" fill="#1a1a1a"><tspan font-style="italic">P</tspan> = .008</text>
<g transform="translate(425.70,112.80) rotate(-45)" font-size="6.6" fill="#1a1a1a">
<text x="-42.40" y="0"><tspan font-size="6.3" font-weight="bold" textLength="8.0" lengthAdjust="spacingAndGlyphs">pur</tspan><tspan font-size="7.2" textLength="18.6" lengthAdjust="spacingAndGlyphs">TGFβ</tspan><tspan font-size="6.6" textLength="15.8" lengthAdjust="spacingAndGlyphs">-iTreg</tspan></text>
<text x="-20.00" y="6.8" text-anchor="middle" font-size="6.5">n = 12</text>
</g>
<g transform="translate(460.70,112.50) rotate(-45)" font-size="6.6" fill="#1a1a1a">
<text x="-33.10" y="0"><tspan font-size="6.3" font-weight="bold" textLength="6.3" lengthAdjust="spacingAndGlyphs">plt</tspan><tspan font-size="7.2" textLength="11.0" lengthAdjust="spacingAndGlyphs">Lys</tspan><tspan font-size="6.6" textLength="15.8" lengthAdjust="spacingAndGlyphs">-iTreg</tspan></text>
<text x="-15.30" y="6.8" text-anchor="middle" font-size="6.5">n = 11</text>
</g>
<g transform="translate(495.70,113.70) rotate(-45)" font-size="6.6" fill="#1a1a1a">
<text x="0" y="0" text-anchor="end">Control</text>
<text x="-9.80" y="6.8" text-anchor="middle" font-size="6.5">n = 27</text>
</g>
<line x1="407.00" y1="187.40" x2="407.00" y2="260.10" stroke="#000" stroke-width="1.5" stroke-linecap="butt"/>
<line x1="404.20" y1="259.50" x2="511.80" y2="259.50" stroke="#000" stroke-width="1.5" stroke-linecap="butt"/>
<line x1="404.00" y1="259.50" x2="407.00" y2="259.50" stroke="#000" stroke-width="1.25" stroke-linecap="butt"/>
<text transform="translate(401.40,261.90)" font-size="6.5" text-anchor="end" fill="#1a1a1a">1</text>
<line x1="405.20" y1="254.31" x2="407.00" y2="254.31" stroke="#111" stroke-width="0.7" stroke-linecap="butt"/>
<line x1="405.20" y1="251.27" x2="407.00" y2="251.27" stroke="#111" stroke-width="0.7" stroke-linecap="butt"/>
<line x1="405.20" y1="249.11" x2="407.00" y2="249.11" stroke="#111" stroke-width="0.7" stroke-linecap="butt"/>
<line x1="405.20" y1="247.44" x2="407.00" y2="247.44" stroke="#111" stroke-width="0.7" stroke-linecap="butt"/>
<line x1="405.20" y1="246.08" x2="407.00" y2="246.08" stroke="#111" stroke-width="0.7" stroke-linecap="butt"/>
<line x1="405.20" y1="244.92" x2="407.00" y2="244.92" stroke="#111" stroke-width="0.7" stroke-linecap="butt"/>
<line x1="405.20" y1="243.92" x2="407.00" y2="243.92" stroke="#111" stroke-width="0.7" stroke-linecap="butt"/>
<line x1="405.20" y1="243.04" x2="407.00" y2="243.04" stroke="#111" stroke-width="0.7" stroke-linecap="butt"/>
<line x1="404.00" y1="242.25" x2="407.00" y2="242.25" stroke="#000" stroke-width="1.25" stroke-linecap="butt"/>
<text transform="translate(401.40,244.65)" font-size="6.5" text-anchor="end" fill="#1a1a1a">10</text>
<line x1="405.20" y1="237.06" x2="407.00" y2="237.06" stroke="#111" stroke-width="0.7" stroke-linecap="butt"/>
<line x1="405.20" y1="234.02" x2="407.00" y2="234.02" stroke="#111" stroke-width="0.7" stroke-linecap="butt"/>
<line x1="405.20" y1="231.86" x2="407.00" y2="231.86" stroke="#111" stroke-width="0.7" stroke-linecap="butt"/>
<line x1="405.20" y1="230.19" x2="407.00" y2="230.19" stroke="#111" stroke-width="0.7" stroke-linecap="butt"/>
<line x1="405.20" y1="228.83" x2="407.00" y2="228.83" stroke="#111" stroke-width="0.7" stroke-linecap="butt"/>
<line x1="405.20" y1="227.67" x2="407.00" y2="227.67" stroke="#111" stroke-width="0.7" stroke-linecap="butt"/>
<line x1="405.20" y1="226.67" x2="407.00" y2="226.67" stroke="#111" stroke-width="0.7" stroke-linecap="butt"/>
<line x1="405.20" y1="225.79" x2="407.00" y2="225.79" stroke="#111" stroke-width="0.7" stroke-linecap="butt"/>
<line x1="404.00" y1="225.00" x2="407.00" y2="225.00" stroke="#000" stroke-width="1.25" stroke-linecap="butt"/>
<text transform="translate(401.40,227.40)" font-size="6.5" text-anchor="end" fill="#1a1a1a">100</text>
<line x1="405.20" y1="219.81" x2="407.00" y2="219.81" stroke="#111" stroke-width="0.7" stroke-linecap="butt"/>
<line x1="405.20" y1="216.77" x2="407.00" y2="216.77" stroke="#111" stroke-width="0.7" stroke-linecap="butt"/>
<line x1="405.20" y1="214.61" x2="407.00" y2="214.61" stroke="#111" stroke-width="0.7" stroke-linecap="butt"/>
<line x1="405.20" y1="212.94" x2="407.00" y2="212.94" stroke="#111" stroke-width="0.7" stroke-linecap="butt"/>
<line x1="405.20" y1="211.58" x2="407.00" y2="211.58" stroke="#111" stroke-width="0.7" stroke-linecap="butt"/>
<line x1="405.20" y1="210.42" x2="407.00" y2="210.42" stroke="#111" stroke-width="0.7" stroke-linecap="butt"/>
<line x1="405.20" y1="209.42" x2="407.00" y2="209.42" stroke="#111" stroke-width="0.7" stroke-linecap="butt"/>
<line x1="405.20" y1="208.54" x2="407.00" y2="208.54" stroke="#111" stroke-width="0.7" stroke-linecap="butt"/>
<line x1="404.00" y1="207.75" x2="407.00" y2="207.75" stroke="#000" stroke-width="1.25" stroke-linecap="butt"/>
<text transform="translate(401.40,210.15)" font-size="6.5" text-anchor="end" fill="#1a1a1a">1000</text>
<line x1="405.20" y1="202.56" x2="407.00" y2="202.56" stroke="#111" stroke-width="0.7" stroke-linecap="butt"/>
<line x1="405.20" y1="199.52" x2="407.00" y2="199.52" stroke="#111" stroke-width="0.7" stroke-linecap="butt"/>
<line x1="405.20" y1="197.36" x2="407.00" y2="197.36" stroke="#111" stroke-width="0.7" stroke-linecap="butt"/>
<line x1="405.20" y1="195.69" x2="407.00" y2="195.69" stroke="#111" stroke-width="0.7" stroke-linecap="butt"/>
<line x1="405.20" y1="194.33" x2="407.00" y2="194.33" stroke="#111" stroke-width="0.7" stroke-linecap="butt"/>
<line x1="405.20" y1="193.17" x2="407.00" y2="193.17" stroke="#111" stroke-width="0.7" stroke-linecap="butt"/>
<line x1="405.20" y1="192.17" x2="407.00" y2="192.17" stroke="#111" stroke-width="0.7" stroke-linecap="butt"/>
<line x1="405.20" y1="191.29" x2="407.00" y2="191.29" stroke="#111" stroke-width="0.7" stroke-linecap="butt"/>
<line x1="404.00" y1="190.50" x2="407.00" y2="190.50" stroke="#000" stroke-width="1.25" stroke-linecap="butt"/>
<text transform="translate(401.40,192.90)" font-size="6.5" text-anchor="end" fill="#1a1a1a">10000</text>
<path d="M425.50,199.77 L427.00,202.62 L424.00,202.62 Z" fill="#fff" stroke="#111" stroke-width="1.12" stroke-linejoin="miter"/>
<path d="M425.50,204.47 L427.00,207.33 L424.00,207.33 Z" fill="#fff" stroke="#111" stroke-width="1.12" stroke-linejoin="miter"/>
<path d="M423.20,215.77 L424.70,218.62 L421.70,218.62 Z" fill="#fff" stroke="#111" stroke-width="1.12" stroke-linejoin="miter"/>
<path d="M427.90,215.77 L429.40,218.62 L426.40,218.62 Z" fill="#fff" stroke="#111" stroke-width="1.12" stroke-linejoin="miter"/>
<path d="M425.50,220.57 L427.00,223.43 L424.00,223.43 Z" fill="#fff" stroke="#111" stroke-width="1.12" stroke-linejoin="miter"/>
<path d="M425.50,225.47 L427.00,228.33 L424.00,228.33 Z" fill="#fff" stroke="#111" stroke-width="1.12" stroke-linejoin="miter"/>
<path d="M423.20,230.38 L424.70,233.23 L421.70,233.23 Z" fill="#fff" stroke="#111" stroke-width="1.12" stroke-linejoin="miter"/>
<path d="M427.90,230.38 L429.40,233.23 L426.40,233.23 Z" fill="#fff" stroke="#111" stroke-width="1.12" stroke-linejoin="miter"/>
<path d="M423.20,235.27 L424.70,238.12 L421.70,238.12 Z" fill="#fff" stroke="#111" stroke-width="1.12" stroke-linejoin="miter"/>
<path d="M427.90,235.27 L429.40,238.12 L426.40,238.12 Z" fill="#fff" stroke="#111" stroke-width="1.12" stroke-linejoin="miter"/>
<path d="M424.00,257.57 L425.50,260.43 L422.50,260.43 Z" fill="#111" stroke="#111" stroke-width="1.12" stroke-linejoin="miter"/>
<path d="M427.90,257.57 L429.40,260.43 L426.40,260.43 Z" fill="#111" stroke="#111" stroke-width="1.12" stroke-linejoin="miter"/>
<line x1="414.30" y1="214.90" x2="437.30" y2="214.90" stroke="#000" stroke-width="1.25" stroke-linecap="butt"/>
<path d="M459.60,192.03 L461.10,189.17 L458.10,189.17 Z" fill="#111" stroke="#111" stroke-width="1.12" stroke-linejoin="miter"/>
<path d="M460.20,202.33 L461.70,199.47 L458.70,199.47 Z" fill="#fff" stroke="#111" stroke-width="1.12" stroke-linejoin="miter"/>
<path d="M460.20,217.73 L461.70,214.88 L458.70,214.88 Z" fill="#fff" stroke="#111" stroke-width="1.12" stroke-linejoin="miter"/>
<path d="M460.20,228.03 L461.70,225.17 L458.70,225.17 Z" fill="#fff" stroke="#111" stroke-width="1.12" stroke-linejoin="miter"/>
<path d="M460.20,233.23 L461.70,230.38 L458.70,230.38 Z" fill="#fff" stroke="#111" stroke-width="1.12" stroke-linejoin="miter"/>
<path d="M460.20,238.12 L461.70,235.27 L458.70,235.27 Z" fill="#fff" stroke="#111" stroke-width="1.12" stroke-linejoin="miter"/>
<path d="M450.40,260.43 L451.90,257.57 L448.90,257.57 Z" fill="#111" stroke="#111" stroke-width="1.12" stroke-linejoin="miter"/>
<path d="M454.30,260.43 L455.80,257.57 L452.80,257.57 Z" fill="#111" stroke="#111" stroke-width="1.12" stroke-linejoin="miter"/>
<path d="M458.20,260.43 L459.70,257.57 L456.70,257.57 Z" fill="#111" stroke="#111" stroke-width="1.12" stroke-linejoin="miter"/>
<path d="M462.10,260.43 L463.60,257.57 L460.60,257.57 Z" fill="#111" stroke="#111" stroke-width="1.12" stroke-linejoin="miter"/>
<path d="M466.00,260.43 L467.50,257.57 L464.50,257.57 Z" fill="#111" stroke="#111" stroke-width="1.12" stroke-linejoin="miter"/>
<path d="M469.90,260.43 L471.40,257.57 L468.40,257.57 Z" fill="#111" stroke="#111" stroke-width="1.12" stroke-linejoin="miter"/>
<line x1="448.30" y1="217.60" x2="471.80" y2="217.60" stroke="#000" stroke-width="1.25" stroke-linecap="butt"/>
<circle cx="494.50" cy="195.80" r="1.4" fill="#fff" stroke="#111" stroke-width="1.3"/>
<circle cx="492.10" cy="201.20" r="1.4" fill="#fff" stroke="#111" stroke-width="1.3"/>
<circle cx="496.80" cy="201.20" r="1.4" fill="#fff" stroke="#111" stroke-width="1.3"/>
<circle cx="492.10" cy="205.90" r="1.4" fill="#fff" stroke="#111" stroke-width="1.3"/>
<circle cx="496.80" cy="205.90" r="1.4" fill="#fff" stroke="#111" stroke-width="1.3"/>
<circle cx="485.20" cy="209.50" r="1.4" fill="#fff" stroke="#111" stroke-width="1.3"/>
<circle cx="488.80" cy="211.00" r="1.4" fill="#fff" stroke="#111" stroke-width="1.3"/>
<circle cx="492.80" cy="211.00" r="1.4" fill="#fff" stroke="#111" stroke-width="1.3"/>
<circle cx="496.80" cy="211.00" r="1.4" fill="#fff" stroke="#111" stroke-width="1.3"/>
<circle cx="500.80" cy="211.00" r="1.4" fill="#fff" stroke="#111" stroke-width="1.3"/>
<circle cx="504.70" cy="211.00" r="1.4" fill="#fff" stroke="#111" stroke-width="1.3"/>
<circle cx="485.20" cy="214.40" r="1.4" fill="#fff" stroke="#111" stroke-width="1.3"/>
<circle cx="488.80" cy="215.80" r="1.4" fill="#fff" stroke="#111" stroke-width="1.3"/>
<circle cx="492.80" cy="215.80" r="1.4" fill="#fff" stroke="#111" stroke-width="1.3"/>
<circle cx="496.80" cy="215.80" r="1.4" fill="#fff" stroke="#111" stroke-width="1.3"/>
<circle cx="500.80" cy="215.80" r="1.4" fill="#fff" stroke="#111" stroke-width="1.3"/>
<circle cx="504.70" cy="215.80" r="1.4" fill="#fff" stroke="#111" stroke-width="1.3"/>
<circle cx="486.40" cy="221.00" r="1.4" fill="#fff" stroke="#111" stroke-width="1.3"/>
<circle cx="490.40" cy="221.00" r="1.4" fill="#fff" stroke="#111" stroke-width="1.3"/>
<circle cx="494.50" cy="221.00" r="1.4" fill="#fff" stroke="#111" stroke-width="1.3"/>
<circle cx="498.60" cy="221.00" r="1.4" fill="#fff" stroke="#111" stroke-width="1.3"/>
<circle cx="502.60" cy="221.00" r="1.4" fill="#fff" stroke="#111" stroke-width="1.3"/>
<circle cx="494.50" cy="226.60" r="1.4" fill="#fff" stroke="#111" stroke-width="1.3"/>
<circle cx="494.50" cy="231.80" r="1.4" fill="#fff" stroke="#111" stroke-width="1.3"/>
<circle cx="494.50" cy="236.70" r="1.4" fill="#fff" stroke="#111" stroke-width="1.3"/>
<circle cx="490.00" cy="259.00" r="1.4" fill="#111" stroke="#111" stroke-width="1.3"/>
<circle cx="494.50" cy="259.00" r="1.4" fill="#111" stroke="#111" stroke-width="1.3"/>
<circle cx="499.00" cy="259.00" r="1.4" fill="#111" stroke="#111" stroke-width="1.3"/>
<path d="M424.25,178.00 V173.80 H494.50 V178.00" fill="none" stroke="#000" stroke-width="1.15"/>
<path d="M424.40,191.80 V188.80 H459.00 V191.80" fill="none" stroke="#000" stroke-width="1.15"/>
<path d="M460.4,188.8 V186.0 H494.3 V190.8" fill="none" stroke="#000" stroke-width="1.15"/>
<text transform="translate(459.50,171.90)" font-size="6.9" text-anchor="middle" fill="#1a1a1a"><tspan font-style="italic">P</tspan> = .10</text>
<text transform="translate(441.80,184.00)" font-size="6.9" text-anchor="middle" fill="#1a1a1a"><tspan font-style="italic">P</tspan> = .12</text>
<text transform="translate(478.00,184.00)" font-size="6.9" text-anchor="middle" fill="#1a1a1a"><tspan font-style="italic">P</tspan> = .004</text>
<g transform="translate(426.90,267.30) rotate(-45)" font-size="6.6" fill="#1a1a1a">
<text x="-42.40" y="0"><tspan font-size="6.3" font-weight="bold" textLength="8.0" lengthAdjust="spacingAndGlyphs">pur</tspan><tspan font-size="7.2" textLength="18.6" lengthAdjust="spacingAndGlyphs">TGFβ</tspan><tspan font-size="6.6" textLength="15.8" lengthAdjust="spacingAndGlyphs">-iTreg</tspan></text>
</g>
<g transform="translate(460.90,267.30) rotate(-45)" font-size="6.6" fill="#1a1a1a">
<text x="-33.10" y="0"><tspan font-size="6.3" font-weight="bold" textLength="6.3" lengthAdjust="spacingAndGlyphs">plt</tspan><tspan font-size="7.2" textLength="11.0" lengthAdjust="spacingAndGlyphs">Lys</tspan><tspan font-size="6.6" textLength="15.8" lengthAdjust="spacingAndGlyphs">-iTreg</tspan></text>
</g>
<g transform="translate(495.90,267.30) rotate(-45)" font-size="6.6" fill="#1a1a1a">
<text x="0" y="0" text-anchor="end">Control</text>
</g>
<text transform="translate(19.80,333.80) rotate(-90)" font-size="8.2" textLength="58.0" lengthAdjust="spacingAndGlyphs" fill="#1a1a1a" style="stroke-width:0.42px">Incidence of inhibitor</text>
<text transform="translate(29.40,327.00) rotate(-90)" font-size="8.2" textLength="46.0" lengthAdjust="spacingAndGlyphs" fill="#1a1a1a" style="stroke-width:0.42px">development (%)</text>
<text transform="translate(211.80,94.50) rotate(-90)" font-size="8.0" textLength="49.0" lengthAdjust="spacingAndGlyphs" fill="#1a1a1a" style="stroke-width:0.42px">Anti-FVIII inhibitor</text>
<text transform="translate(222.40,91.00) rotate(-90)" font-size="8.0" textLength="42.0" lengthAdjust="spacingAndGlyphs" fill="#1a1a1a" style="stroke-width:0.42px">titer  (BU/ml)</text>
<text transform="translate(212.40,248.60) rotate(-90)" font-size="8.0" textLength="50.0" lengthAdjust="spacingAndGlyphs" fill="#1a1a1a" style="stroke-width:0.42px">Anti-FVIII inhibitor</text>
<text transform="translate(222.40,235.80) rotate(-90)" font-size="8.0" textLength="23.0" lengthAdjust="spacingAndGlyphs" fill="#1a1a1a" style="stroke-width:0.42px">(BU/ml)</text>
<text transform="translate(375.00,106.20) rotate(-90)" font-size="8.0" textLength="74.4" lengthAdjust="spacingAndGlyphs" fill="#1a1a1a" style="stroke-width:0.42px">Incidence of total anti-FVIII</text>
<text transform="translate(384.90,99.20) rotate(-90)" font-size="8.0" textLength="59.6" lengthAdjust="spacingAndGlyphs" fill="#1a1a1a" style="stroke-width:0.42px">antibody development</text>
<text transform="translate(376.60,262.00) rotate(-90)" font-size="8.0" textLength="79.0" lengthAdjust="spacingAndGlyphs" fill="#1a1a1a" style="stroke-width:0.42px">Anti-FVIII total antibody titer</text>
</g></svg></body></html>
